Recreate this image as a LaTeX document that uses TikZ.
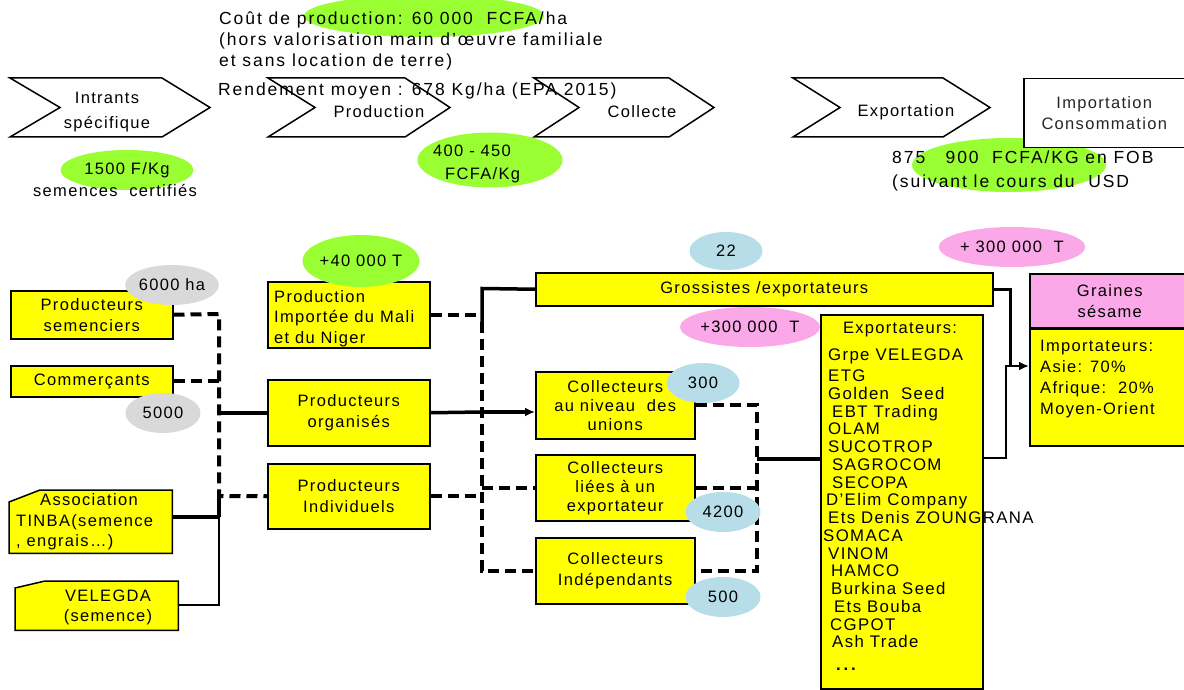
\documentclass[tikz,border=0pt]{standalone}
\usepackage{fontspec}
\setmainfont{Liberation Sans}[LetterSpace=8]
\usetikzlibrary{arrows.meta,calc,shapes.geometric}
\definecolor{lime}{RGB}{153,255,51}
\definecolor{greyb}{RGB}{217,217,217}
\definecolor{blueb}{RGB}{183,221,232}
\definecolor{pinkb}{RGB}{250,168,232}
\definecolor{yel}{RGB}{255,255,0}
\newcommand\dfont{\fontsize{16.5}{21}\selectfont}
\newcommand\hfont{\fontsize{17.5}{21}\selectfont\addfontfeature{LetterSpace=11}}
\newcommand\lfont{\fontsize{16.8}{17.75}\selectfont}
\begin{document}
\begin{tikzpicture}[x=1pt,y=-1pt,font=\dfont,
  ybox/.style={draw,line width=1.5,fill=yel,inner sep=0pt,align=center,anchor=north west},
  hollow/.style={inner sep=0pt,anchor=north west},
  bub/.style={ellipse,inner sep=0pt},
  chev/.style={draw,line width=1.5,fill=white},
  txt/.style={inner sep=0pt,anchor=base west},
  htxt/.style={inner sep=0pt,anchor=base west,font=\hfont},
  dsh/.style={line width=4,dash pattern=on 11 off 6},
  thk/.style={line width=3.5},
  thn/.style={line width=1.6},
]
\useasboundingbox[fill=white] (0,0) rectangle (1184,690);

% ---------- header ----------
\node[bub,fill=lime,minimum width=240,minimum height=42] (ecout) at (424,16) {};
\node[bub,fill=lime,minimum width=194,minimum height=54] (efob) at (1009,165) {};

\draw[chev] (10,78) -- (162,78) -- (210,107.5) -- (162,137) -- (10,137) -- (60,107.5) -- cycle;
\draw[chev] (268,78) -- (405,78) -- (450,107.5) -- (405,137) -- (268,137) -- (315,107.5) -- cycle;
\draw[chev] (534,78) -- (669,78) -- (714,107.5) -- (669,137) -- (534,137) -- (579,107.5) -- cycle;
\draw[chev] (793,78) -- (943,78) -- (990,107.5) -- (943,137) -- (793,137) -- (840,107.5) -- cycle;
\node[draw,line width=1.5,fill=white,minimum width=161,minimum height=69,anchor=north west,inner sep=0,align=center,text=black!85] (imp) at (1023,78) {Importation\\Consommation};

\node[align=center] (tintr) at (107,112) {Intrants\\[4pt]spécifique};
\node (tprod) at (379,112) {Production};
\node (tcoll) at (642,112) {Collecte};
\node (texp) at (906,112) {Exportation};

\node[htxt] (h1) at (219,25) {Coût de production: 60 000\ \ FCFA/ha};
\node[htxt] (h2) at (219,46) {(hors valorisation main d’œuvre familiale};
\node[htxt] (h3) at (219,67) {et sans location de terre)};
\node[htxt] (h4) at (218,96) {Rendement moyen : 678 Kg/ha (EPA 2015)};

\node[bub,fill=lime,minimum width=133,minimum height=40] (e1500) at (127,170) {1500 F/Kg};
\node (semc) at (115,191) {semences\ \ certifiés};
\node[bub,fill=lime,minimum width=145,minimum height=55] (e400) at (490,160) {};
\node[txt] (t400a) at (433,157) {400 - 450};
\node[txt] (t400b) at (445,179) {FCFA/Kg};
\node[htxt] (fob1) at (892,164) {875\ \ \ 900\ \ FCFA/KG en FOB};
\node[htxt] (fob2) at (892,187) {(suivant le cours du\ \ USD};

% ---------- boxes ----------
\node[ybox,minimum width=162,minimum height=48] (psem) at (10,290) {Producteurs\\semenciers};
\node[ybox,minimum width=162,minimum height=31] (comm) at (10,365) {Commerçants};
\node[hollow,minimum width=163,minimum height=63] (tinba) at (9,490) {};
\draw[fill=yel,line width=1.5] (tinba.south west) -- ($(tinba.north west)+(0,12)$) -- ($(tinba.north west)+(31,0)$) -- (tinba.north east) -- (tinba.south east) -- cycle;
\node[txt] (tinba1) at (40,505) {Association};
\node[txt] (tinba2) at (16,526) {TINBA(semence};
\node[txt] (tinba3) at (16,546) {, engrais…)};
\node[hollow,minimum width=163,minimum height=49] (veleg) at (15,581) {};
\draw[fill=yel,line width=1.5] (veleg.south west) -- ($(veleg.north west)+(0,7)$) -- ($(veleg.north west)+(30,0)$) -- (veleg.north east) -- (veleg.south east) -- cycle;
\node[align=center] (velegt) at (108,607) {VELEGDA\\[-1pt](semence)};

\node[ybox,minimum width=162,minimum height=66] (pimp) at (267,281) {};
\node[txt] (pimp1) at (274,302) {Production};
\node[txt] (pimp2) at (274,322) {Importée du Mali};
\node[txt] (pimp3) at (274,343) {et du Niger};
\node[ybox,minimum width=162,minimum height=66] (porg) at (267,379) {Producteurs\\organisés};
\node[ybox,minimum width=162,minimum height=65] (pind) at (267,463) {Producteurs\\Individuels};

\node[ybox,minimum width=457,minimum height=33] (gross) at (535,272) {Grossistes /exportateurs};
\node[ybox,minimum width=159,minimum height=67] (cun) at (535,371) {Collecteurs\\[-2pt]au niveau\ \ des\\[-2pt]unions};
\node[ybox,minimum width=159,minimum height=66] (clie) at (535,454) {Collecteurs\\[-2pt]liées à un\\[-2pt]exportateur};
\node[ybox,minimum width=159,minimum height=66] (cind) at (535,537) {Collecteurs\\Indépendants};

\node[ybox,minimum width=162,minimum height=374] (expt) at (820,314) {};
\node[anchor=base,inner sep=0] (exptt) at (900,333) {Exportateurs:};
\node[anchor=north west,align=left,font=\lfont,inner sep=0] (elist) at (823,349) {%
\hspace*{5pt}Grpe VELEGDA\\[3pt]
\hspace*{5pt}ETG\\
\hspace*{5pt}Golden\ \ Seed\\
\hspace*{9pt}EBT Trading\\
\hspace*{5pt}OLAM\\
\hspace*{5pt}SUCOTROP\\
\hspace*{9pt}SAGROCOM\\
\hspace*{9pt}SECOPA\\
\hspace*{3pt}D’Elim Company\\
\hspace*{5pt}Ets Denis ZOUNGRANA\\
SOMACA\\
\hspace*{5pt}VINOM\\
\hspace*{8pt}HAMCO\\
\hspace*{8pt}Burkina Seed\\
\hspace*{11pt}Ets Bouba\\
\hspace*{7pt}CGPOT\\
\hspace*{9pt}Ash Trade\\[5pt]
\hspace*{13pt}{\bfseries .\,.\,.}};

\node[draw,line width=1.5,fill=pinkb,minimum width=160,minimum height=55,anchor=north west,inner sep=0,align=center] (grain) at (1029,273) {Graines\\sésame};
\node[ybox,minimum width=160,minimum height=117] (impt) at (1029,328) {};
\draw[line width=3] (impt.north west) -- (impt.north east);
\node[anchor=north west,align=left,inner sep=0] (imptt) at (1040,340) {Importateurs:\\Asie: 70\%\\Afrique:\ \ 20\%\\Moyen-Orient};

% ---------- connectors ----------
\coordinate (b1t) at (219,314);
\coordinate (b1d) at (219,496);
\coordinate (b1j) at (219,517);
\coordinate (tinbaE) at (172,517);
\coordinate (velE) at (178,605);
\draw[dsh] (psem.east) -- (b1t) -- (b1d) -- (pind.west);
\draw[dsh] (comm.east) -- (comm.east -| b1t);
\draw[thk] (porg.west -| b1t) -- (porg.west);
\draw[thk] (b1d) -- (b1j);
\draw[thk] (tinbaE) -- (b1j);
\draw[thn] (velE) -- (velE -| b1j) -- (b1j);

\coordinate (b2g) at (482,288.5);
\coordinate (b2s) at (482,322);
\coordinate (b2o) at (482,412);
\draw[thk] (gross.west) -- (b2g) -- (b2s);
\draw[dsh] (b2s) -- (b2s |- cind.west) -- (cind.west);
\draw[dsh] (pimp.east) -- (pimp.east -| b2g);
\draw[thk] (porg.east) -- (b2o);
\draw[thk,-{Latex[length=10,width=9]}] (b2o) -- (b2o -| cun.west);
\draw[dsh] (pind.east) -- (pind.east -| b2g);
\draw[dsh] (clie.west -| b2g) -- (clie.west);

\coordinate (b3) at (757,459);
\draw[dsh] (cun.east) -- (cun.east -| b3) -- (b3 |- cind.east) -- (cind.east);
\draw[dsh] (clie.east) -- (clie.east -| b3);
\draw[thk] (b3) -- (b3 -| expt.west);

\coordinate (mrg) at (1010,366);
\coordinate (exo) at (982,458);
\draw[line width=3] (gross.east) -- (gross.east -| mrg) -- (mrg);
\draw[thn] (exo) -- (1006,458) -- (1006,366) -- (mrg);
\draw[line width=2.5,-{Latex[length=10,width=9]}] (mrg) -- (mrg -| impt.west);

% ---------- bubbles ----------
\node[bub,fill=greyb,minimum width=80,minimum height=40] (b6000) at (172,285) {6000 ha};
\node[bub,fill=greyb,minimum width=75,minimum height=40] (b5000) at (163,413) {5000};
\node[bub,fill=lime,minimum width=95,minimum height=52] (b40) at (361,261) {+40 000 T};
\node[bub,fill=blueb,minimum width=73,minimum height=38] (b22) at (726,251) {22};
\node[bub,fill=pinkb,minimum width=140,minimum height=40] (b300a) at (750,327) {+300 000\ \ T};
\node[bub,fill=pinkb,minimum width=139,minimum height=40] (b300b) at (1012,247) {+ 300 000\ \ T};
\node[bub,fill=blueb,minimum width=73,minimum height=40] (b300) at (703,383) {300};
\node[bub,fill=blueb,minimum width=75,minimum height=40] (b4200) at (723,512) {4200};
\node[bub,fill=blueb,minimum width=75,minimum height=40] (b500) at (723,597) {500};
\end{tikzpicture}
\end{document}
